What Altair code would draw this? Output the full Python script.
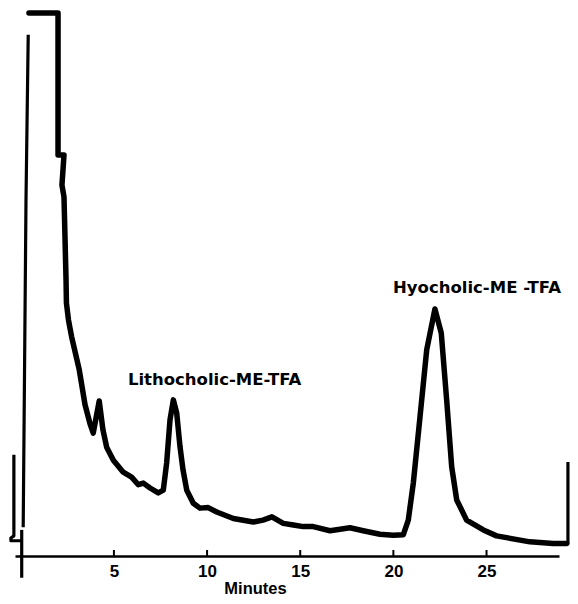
import altair as alt
import pandas as pd

# Chromatogram trace: time (minutes) and detector response (% of full scale)
trace_t = [0.44, 2.00, 2.00, 2.32, 2.21, 2.32, 2.43, 2.45, 2.56, 2.73, 3.14, 3.45, 3.71, 3.89,
           4.21, 4.41, 4.61, 4.97, 5.50, 5.95, 6.31, 6.58, 6.94, 7.38, 7.65, 7.83, 8.01,
           8.19, 8.37, 8.55, 8.71, 8.91, 9.26, 9.62, 10.06, 10.52, 11.41, 12.48, 13.00,
           13.48, 14.09, 14.63, 15.16, 15.70, 16.60, 17.67, 18.38, 19.28, 20.00, 20.53,
           20.80, 21.07, 21.43, 21.79, 22.23, 22.57, 22.86, 23.13, 23.40,
           23.93, 24.83, 25.54, 27.33, 28.58, 29.30]
trace_r = [99.8, 99.8, 73.7, 73.7, 68.2, 66.0, 50.7, 46.5, 43.4, 40.3, 34.2, 27.8, 24.4, 22.6,
           28.5, 23.2, 20.0, 17.6, 15.4, 14.5, 13.1, 13.4, 12.5, 11.6, 12.1, 17.1, 25.0,
           28.7, 26.3, 20.0, 15.8, 12.1, 9.7, 8.8, 8.9, 8.1, 6.9, 6.25, 6.6,
           7.2, 6.0, 5.7, 5.4, 5.4, 4.65, 5.2, 4.65, 4.0, 3.8, 3.9,
           6.6, 13.4, 25.6, 37.9, 45.4, 41.0, 28.7, 16.4, 10.3,
           6.6, 4.8, 3.7, 2.6, 2.3, 2.3]

# Thin pen marks (injection marker and end-of-run mark)
pen_seg = ["a", "a", "a", "b", "b", "c", "c", "c", "c", "c", "d", "d", "d"]
pen_t = [0.40, 0.28, 0.13, 0.05, 0.05, -0.37, -0.37, -0.53, -0.53, 0.01, 29.30, 29.37, 29.37]
pen_r = [95.8, 65.4, 5.3, 4.8, -4.0, 18.6, 3.7, 3.3, 2.8, 2.8, 2.3, 2.3, 17.3]

tick_values = [5, 10, 15, 20, 25]

peak_names = ["Lithocholic-ME-TFA", "Hyocholic-ME -TFA"]
peak_label_t = [5.75, 19.98]
peak_label_r = [31.4, 48.3]

trace_df = pd.DataFrame({"t": trace_t, "r": trace_r, "i": list(range(len(trace_t)))})
pen_df = pd.DataFrame({"t": pen_t, "r": pen_r, "seg": pen_seg, "i": list(range(len(pen_t)))})
tick_df = pd.DataFrame({"t": tick_values, "r0": [0] * len(tick_values), "r1": [1.1] * len(tick_values)})
label_df = pd.DataFrame({"t": peak_label_t, "r": peak_label_r, "name": peak_names})

xscale = alt.Scale(domain=[-0.31, 28.89], nice=False, zero=False)
yscale = alt.Scale(domain=[0, 100], nice=False, zero=False)

xaxis = alt.Axis(
    values=tick_values, ticks=False, tickSize=0, grid=False,
    domainColor="black", domainWidth=2.5,
    labelFont="Liberation Sans", labelFontWeight="bold", labelFontSize=17,
    labelColor="black", labelPadding=7,
    title="Minutes", titleFont="Liberation Sans", titleFontWeight="bold",
    titleFontSize=16.5, titleColor="black", titleX=240, titleY=37,
    titleAlign="center", titleBaseline="alphabetic",
)

trace = alt.Chart(trace_df).mark_line(
    color="black", strokeWidth=5.5, strokeJoin="round", strokeCap="round"
).encode(
    x=alt.X("t:Q", scale=xscale, axis=xaxis),
    y=alt.Y("r:Q", scale=yscale, axis=None),
    order="i:Q",
)

pens = alt.Chart(pen_df).mark_line(
    color="black", strokeWidth=3.2, strokeJoin="round"
).encode(
    x=alt.X("t:Q", scale=xscale),
    y=alt.Y("r:Q", scale=yscale),
    detail="seg:N",
    order="i:Q",
)

ticks = alt.Chart(tick_df).mark_rule(color="black", strokeWidth=2).encode(
    x=alt.X("t:Q", scale=xscale),
    y=alt.Y("r0:Q", scale=yscale),
    y2="r1:Q",
)

labels = alt.Chart(label_df).mark_text(
    align="left", baseline="alphabetic", font="DejaVu Sans",
    fontWeight="bold", fontSize=16.5, color="black"
).encode(
    x=alt.X("t:Q", scale=xscale),
    y=alt.Y("r:Q", scale=yscale),
    text="name:N",
)

chart = alt.layer(trace, pens, ticks, labels).properties(
    width=544, height=544,
    autosize=alt.AutoSizeParams(type="none"),
    padding={"left": 7, "top": 4, "right": 11, "bottom": 40},
).configure_view(stroke=None)

chart.save("out.html", embed_options={"renderer": "svg", "actions": False})
